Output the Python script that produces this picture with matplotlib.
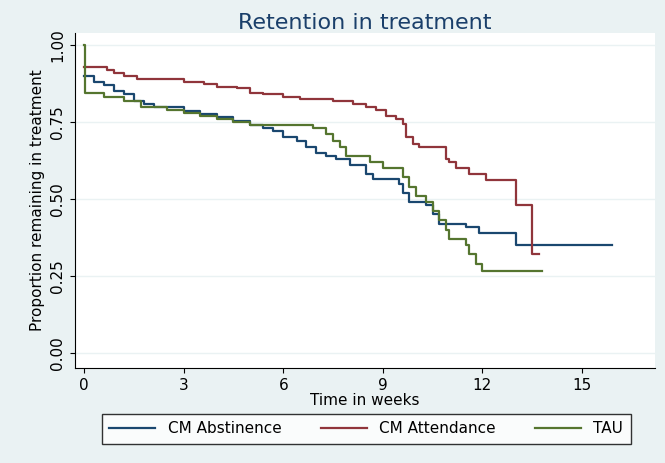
import matplotlib
matplotlib.use("Agg")
import matplotlib.pyplot as plt

# step times (weeks) and survival proportions
abs_t = [0, 0.3, 0.6, 0.9, 1.2, 1.5, 1.8, 2.1, 3.0, 3.5, 4.0, 4.5, 5.0, 5.4, 5.7, 6.0, 6.4, 6.7, 7.0, 7.3, 7.6, 8.0, 8.5, 8.7, 9.5, 9.6, 9.8, 10.3, 10.5, 10.7, 11.5, 11.9, 13.0, 15.9]
abs_s = [0.90, 0.88, 0.87, 0.85, 0.84, 0.82, 0.81, 0.80, 0.785, 0.775, 0.765, 0.755, 0.74, 0.73, 0.72, 0.70, 0.69, 0.67, 0.65, 0.64, 0.63, 0.61, 0.58, 0.565, 0.55, 0.52, 0.49, 0.48, 0.45, 0.42, 0.41, 0.39, 0.35, 0.35]

att_t = [0, 0.7, 0.9, 1.2, 1.6, 2.2, 3.0, 3.6, 4.0, 4.6, 5.0, 5.4, 6.0, 6.5, 7.5, 8.1, 8.5, 8.8, 9.1, 9.4, 9.6, 9.7, 9.9, 10.1, 10.9, 11.0, 11.2, 11.6, 12.1, 13.0, 13.5, 13.7]
att_s = [0.93, 0.92, 0.91, 0.90, 0.89, 0.89, 0.88, 0.875, 0.865, 0.86, 0.845, 0.84, 0.83, 0.825, 0.818, 0.81, 0.80, 0.79, 0.77, 0.76, 0.745, 0.70, 0.68, 0.67, 0.63, 0.62, 0.60, 0.58, 0.56, 0.48, 0.32, 0.32]

tau_t = [0, 0.02, 0.6, 1.2, 1.7, 2.5, 3.0, 3.5, 4.0, 4.5, 5.0, 6.9, 7.3, 7.5, 7.7, 7.9, 8.6, 9.0, 9.6, 9.8, 10.0, 10.3, 10.5, 10.7, 10.9, 11.0, 11.5, 11.6, 11.8, 12.0, 13.8]
tau_s = [1.0, 0.845, 0.83, 0.82, 0.80, 0.79, 0.78, 0.77, 0.76, 0.75, 0.74, 0.73, 0.71, 0.69, 0.67, 0.64, 0.62, 0.60, 0.57, 0.54, 0.51, 0.49, 0.46, 0.43, 0.40, 0.37, 0.35, 0.32, 0.29, 0.265, 0.265]

labels = ["CM Abstinence", "CM Attendance", "TAU"]
colors = ["#1a476f", "#90353b", "#55752f"]

fig = plt.figure(figsize=(6.65, 4.63), dpi=100, facecolor="#eaf2f3")
ax = fig.add_axes([0.113, 0.205, 0.872, 0.724])
ax.set_facecolor("white")

for t, s, c, lab in zip([abs_t, att_t, tau_t], [abs_s, att_s, tau_s], colors, labels):
    ax.step(t, s, where="post", color=c, lw=1.6, label=lab)

ax.set_xlim(-0.27, 17.2)
ax.set_ylim(-0.05, 1.04)
ax.set_xticks([0, 3, 6, 9, 12, 15])
ax.set_yticks([0, 0.25, 0.5, 0.75, 1.0])
ax.set_yticklabels(["0.00", "0.25", "0.50", "0.75", "1.00"], rotation=90, va="center")
ax.grid(axis="y", color="#eaf2f3", lw=1)
ax.set_axisbelow(True)
for sp in ["top", "right"]:
    ax.spines[sp].set_visible(False)
ax.tick_params(labelsize=11)
ax.set_xlabel("Time in weeks", fontsize=11, labelpad=0)
ax.set_ylabel("Proportion remaining in treatment", fontsize=11)
ax.set_title("Retention in treatment", fontsize=16, color="#1a3f6a", pad=3)

fig.legend(loc="lower center", bbox_to_anchor=(0.551, 0.025), ncol=3, frameon=True,
           fancybox=False, edgecolor="black", fontsize=11, handlelength=3.0,
           columnspacing=2.6, borderpad=0.5)

fig.savefig("out.png", facecolor=fig.get_facecolor())
